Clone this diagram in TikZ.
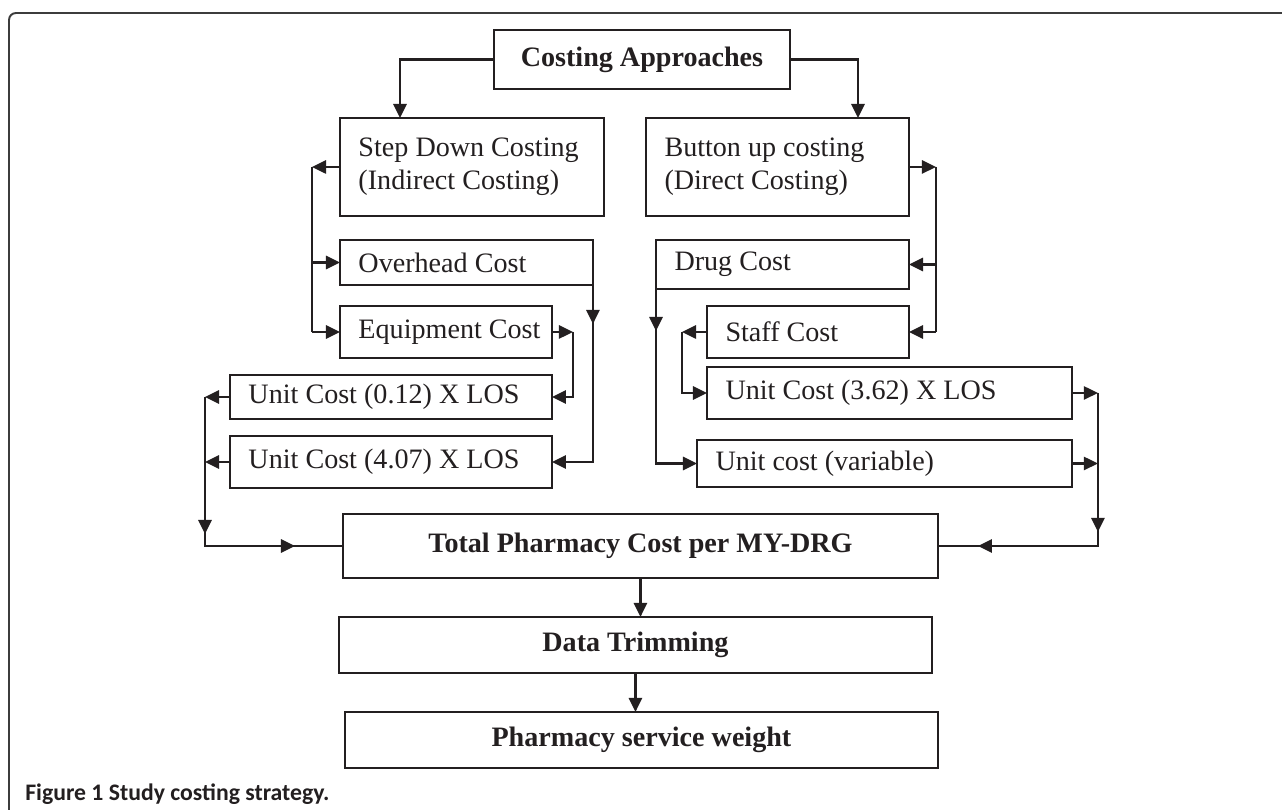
\documentclass[tikz,border=0pt]{standalone}
\usepackage{fontspec}
\setmainfont{Liberation Serif}
\newfontfamily\capfont{Carlito}
\usetikzlibrary{arrows.meta,calc}
\definecolor{ink}{HTML}{231F20}
\definecolor{framec}{HTML}{3C3C3C}
\newcommand\lpad{\hspace*{0.37cm}}
\begin{document}
\begin{tikzpicture}[x=0.02cm,y=-0.02cm,
  every node/.style={font=\fontsize{16}{19}\selectfont, text=ink},
  box/.style={draw=ink, line width=1.2pt, anchor=north west, inner sep=0pt, outer sep=0pt},
  lbox/.style={box, align=flush left},
  cbox/.style={box, align=center, font=\fontsize{16}{19}\selectfont\bfseries},
  ln/.style={draw=ink, line width=1.3pt},
  arr/.style={ln, -{Triangle[length=8pt,width=7.5pt]}},
]
\useasboundingbox[fill=white] (0,0) rectangle (1282,810);
% frame
\draw[framec, line width=1.1pt, rounded corners=0.14cm] (1282,13) -- (9,13) -- (9,812);

% nodes
\node[cbox, minimum width=5.92cm, minimum height=1.18cm] (ca) at (494,30) {Costing Approaches};
\node[lbox, text width=5.28cm, minimum height=1.96cm] (sd) at (340,118) {\lpad Step Down Costing\\\lpad(Indirect Costing)};
\node[lbox, text width=5.26cm, minimum height=1.96cm] (bu) at (646,118) {\lpad Button up costing\\\lpad(Direct Costing)};
\node[lbox, text width=5.06cm, minimum height=0.90cm] (oh) at (340,240) {\lpad Overhead Cost};
\node[lbox, text width=4.24cm, minimum height=1.04cm] (eq) at (340,306) {\lpad Equipment Cost};
\node[lbox, text width=6.44cm, minimum height=0.88cm] (u1) at (230,375) {\lpad Unit Cost (0.12) X LOS};
\node[lbox, text width=6.44cm, minimum height=1.04cm] (u2) at (230,436) {\lpad Unit Cost (4.07) X LOS};
\node[lbox, text width=5.06cm, minimum height=0.98cm] (dc) at (656,240) {\lpad Drug Cost};
\node[lbox, text width=4.04cm, minimum height=1.04cm] (sc) at (707,306) {\lpad Staff Cost};
\node[lbox, text width=7.30cm, minimum height=1.04cm] (u3) at (707,367) {\lpad Unit Cost (3.62) X LOS};
\node[lbox, text width=7.50cm, minimum height=0.94cm] (uv) at (697,440) {\lpad Unit cost (variable)};
\node[cbox, minimum width=11.9cm, minimum height=1.28cm] (tp) at (343,514) {Total Pharmacy Cost per MY-DRG};
\node[cbox, minimum width=11.86cm, minimum height=1.12cm] (dt) at (339,617) {Data Trimming};
\node[cbox, minimum width=11.86cm, minimum height=1.12cm] (pw) at (345,712) {Pharmacy service weight};

% top split
\draw[arr] (ca.west) -| ($(sd.north west)+(60,0)$);
\draw[arr] (ca.east) -| ($(bu.north west)+(212,0)$);

% left branch
\coordinate (L1) at ($(sd.west)+(-28,0)$);
\draw[arr] (sd.west) -- (L1);
\draw[ln] (L1) -- (L1 |- eq.west);
\draw[arr] (L1 |- oh.west) -- (oh.west);
\draw[arr] (L1 |- eq.west) -- (eq.west);

% right branch
\coordinate (R1) at ($(bu.east)+(27,0)$);
\draw[arr] (bu.east) -- (R1);
\draw[ln] (R1) -- (R1 |- sc.east);
\draw[arr] (R1 |- dc.east) -- (dc.east);
\draw[arr] (R1 |- sc.east) -- (sc.east);

% overhead -> unit 4.07
\draw[arr] (oh.south east) |- (u2.east);
\draw[arr] (oh.south east) -- ++(0,39);

% equipment -> unit 0.12
\coordinate (E1) at ($(eq.east)+(21,0)$);
\draw[arr] (eq.east) -- (E1);
\draw[arr] (E1) |- (u1.east);

% left units -> total
\coordinate (L2) at ($(u1.west)+(-25,0)$);
\coordinate (L3) at (L2 |- tp.west);
\draw[arr] (u1.west) -- (L2);
\draw[arr] (u2.west) -- (u2.west -| L2);
\draw[ln] (L2) -- (L3) -- (tp.west);
\draw[arr] (L2) -- ($(L3)+(0,-12)$);
\draw[arr] (L3) -- ++(90,0);

% drug -> unit variable
\draw[arr] (dc.south west) |- (uv.west);
\draw[arr] (dc.south west) -- ++(0,42);

% staff -> unit 3.62
\coordinate (S1) at ($(sc.west)+(-25,0)$);
\draw[arr] (sc.west) -- (S1);
\draw[arr] (S1) |- (u3.west);

% right units -> total
\coordinate (R2) at ($(u3.east)+(26,0)$);
\coordinate (R3) at (R2 |- tp.east);
\draw[arr] (u3.east) -- (R2);
\draw[arr] (uv.east) -- (uv.east -| R2);
\draw[ln] (R2) -- (R3) -- (tp.east);
\draw[arr] (R2) -- ($(R3)+(0,-14)$);
\draw[arr] (R3) -- ++(-120,0);

% bottom chain
\draw[arr] (tp.south) -- (tp.south |- dt.north);
\draw[arr] (dt.south) -- (dt.south |- pw.north);

% caption
\node[anchor=base west, inner sep=0pt, font=\capfont\fontsize{13.5}{16}\selectfont, text=ink] (cap) at (25,800) {\textbf{Figure 1 }\textbf{Study costing strategy.}};
\end{tikzpicture}
\end{document}
